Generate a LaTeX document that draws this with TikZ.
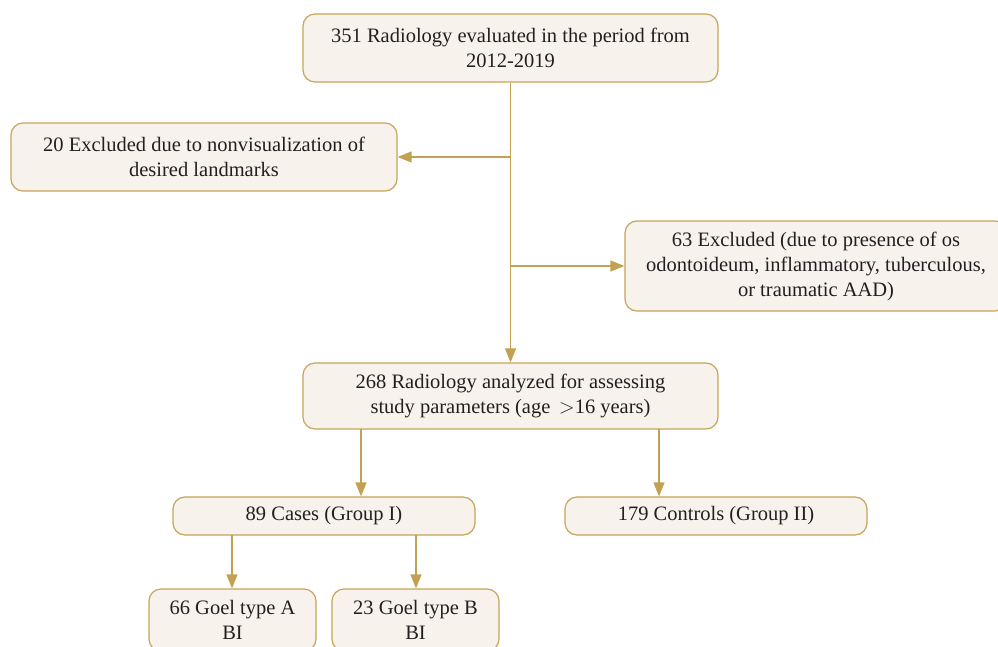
\documentclass[tikz,border=0pt]{standalone}
\usepackage{fontspec}
\setmainfont{Liberation Serif}
\usetikzlibrary{arrows.meta}
\definecolor{boxline}{HTML}{C6A458}
\definecolor{boxfill}{HTML}{F7F3EC}
\definecolor{linkc}{HTML}{C2A252}
\definecolor{txt}{HTML}{231F20}
\begin{document}
\begin{tikzpicture}[x=1pt,y=-1pt,
  fbox/.style={draw=boxline, fill=boxfill, line width=1.2pt, rounded corners=12pt,
    align=center, text=txt, inner sep=0pt, font=\fontsize{20.5}{25}\selectfont},
  link/.style={draw=linkc, line width=1.4pt, -{Triangle[length=14pt,width=11pt]}}]
\useasboundingbox (0,0) rectangle (998,647);
\clip (0,0) rectangle (998,647);
\node[fbox, minimum width=415pt, minimum height=68pt] (top) at (510.5,48) {351 Radiology evaluated in the period from\\2012-2019};
\node[fbox, minimum width=386pt, minimum height=68pt] (excl1) at (204,157) {20 Excluded due to nonvisualization of\\desired landmarks};
\node[fbox, minimum width=382pt, minimum height=90pt] (excl2) at (816,266) {63 Excluded (due to presence of os\\odontoideum, inflammatory, tuberculous,\\or traumatic AAD)};
\node[fbox, minimum width=415pt, minimum height=66pt] (mid) at (510.5,396) {268 Radiology analyzed for assessing\\study parameters (age $\,>$16 years)};
\node[fbox, minimum width=302pt, minimum height=38pt] (cases) at (324,516) {89 Cases (Group I)};
\node[fbox, minimum width=302pt, minimum height=38pt] (ctrl) at (716,516) {179 Controls (Group II)};
\node[fbox, minimum width=167pt, minimum height=62pt] (ga) at (232.5,620) {66 Goel type A\\BI};
\node[fbox, minimum width=167pt, minimum height=62pt] (gb) at (415.5,620) {23 Goel type B\\BI};
\coordinate (j1) at (511,157);
\coordinate (j2) at (511,266);
\coordinate (m1) at (361,429);
\coordinate (m2) at (659,429);
\coordinate (c1) at (232,535);
\coordinate (c2) at (416,535);
\draw[link] (top.south) -- (mid.north);
\draw[link] (j1) -- (excl1.east);
\draw[link] (j2) -- (excl2.west);
\draw[link] (m1) -- (m1 |- cases.north);
\draw[link] (m2) -- (m2 |- ctrl.north);
\draw[link] (c1) -- (c1 |- ga.north);
\draw[link] (c2) -- (c2 |- gb.north);
\end{tikzpicture}
\end{document}
